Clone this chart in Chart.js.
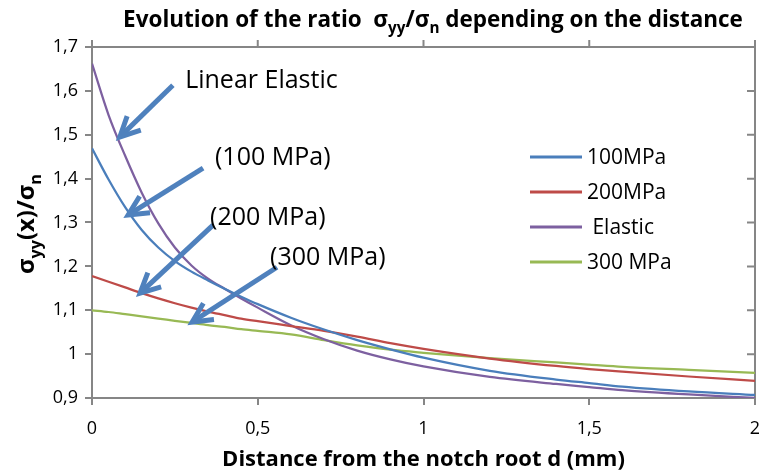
<!DOCTYPE html>
<html>
<head>
<meta charset="utf-8">
<script src="https://cdn.jsdelivr.net/npm/chart.js@4"></script>
<style>
  html, body { margin: 0; padding: 0; background: #fff; }
  #wrap { width: 759px; height: 474px; }
</style>
</head>
<body>
<div id="wrap"><canvas id="ratioChart"></canvas></div>
<script>
// distance from the notch root d (mm)
const distances = [0, 0.05, 0.1, 0.15, 0.2, 0.25, 0.3, 0.35, 0.4, 0.45, 0.5, 0.6, 0.7, 0.8, 0.9, 1.0, 1.2, 1.4, 1.5, 1.6, 1.8, 2.0];
// sigma_yy / sigma_n
const ratio100MPa = [1.469, 1.398, 1.335, 1.283, 1.243, 1.212, 1.188, 1.168, 1.149, 1.131, 1.114, 1.083, 1.056, 1.032, 1.011, 0.992, 0.962, 0.942, 0.934, 0.926, 0.915, 0.907];
const ratio200MPa = [1.178, 1.165, 1.152, 1.139, 1.127, 1.116, 1.106, 1.097, 1.089, 1.081, 1.075, 1.064, 1.053, 1.040, 1.025, 1.012, 0.990, 0.973, 0.966, 0.960, 0.949, 0.939];
const ratioElastic = [1.662, 1.545, 1.452, 1.368, 1.298, 1.243, 1.202, 1.172, 1.149, 1.127, 1.106, 1.066, 1.034, 1.008, 0.988, 0.972, 0.948, 0.932, 0.925, 0.918, 0.908, 0.900];
const ratio300MPa = [1.100, 1.096, 1.091, 1.086, 1.081, 1.076, 1.071, 1.066, 1.062, 1.057, 1.053, 1.045, 1.032, 1.020, 1.010, 1.003, 0.991, 0.981, 0.976, 0.971, 0.964, 0.957];

const seriesLabels = ['100MPa', '200MPa', ' Elastic', '300 MPa'];
const seriesColors = ['#4A7EBB', '#BE4B48', '#7D60A0', '#98B954'];

// callouts: label text and arrow, in data units (d, ratio)
const calloutTexts = ['Linear Elastic', '(100 MPa)', '(200 MPa)', '(300 MPa)'];
const calloutTextAt = [[0.281, 1.606], [0.371, 1.431], [0.356, 1.294], [0.537, 1.203]];
const calloutTail = [[0.244, 1.613], [0.335, 1.424], [0.365, 1.294], [0.558, 1.198]];
const calloutTip = [[0.084, 1.495], [0.109, 1.317], [0.145, 1.139], [0.302, 1.073]];

const axisColor = '#868686';
const fontFamily = '"Open Sans", sans-serif';

function toPoints(values) {
  return values.map((v, i) => ({ x: distances[i], y: v }));
}

function commaNum(v) {
  return (Math.round(v * 10) / 10).toString().replace('.', ',');
}

// MARK: text made of pieces, some as subscripts; size chosen so it fills `width`
function drawRich(ctx, parts, x, y, width, align) {
  const measure = size => parts.reduce((w, p) => {
    ctx.font = 'bold ' + (p.sub ? size * 0.68 : size) + 'px ' + fontFamily;
    return w + ctx.measureText(p.t).width;
  }, 0);
  const size = 20 * width / measure(20);
  const total = measure(size);
  let cx = align === 'center' ? x - total / 2 : x;
  ctx.textAlign = 'left';
  ctx.textBaseline = 'alphabetic';
  parts.forEach(p => {
    ctx.font = 'bold ' + (p.sub ? size * 0.68 : size) + 'px ' + fontFamily;
    ctx.fillText(p.t, cx, p.sub ? y + size * 0.28 : y);
    cx += ctx.measureText(p.t).width;
  });
}

const framePlugin = {
  id: 'frame',
  beforeDatasetsDraw(chart) {
    const { ctx, chartArea: a, scales: { x, y } } = chart;
    ctx.save();
    ctx.strokeStyle = axisColor;
    ctx.lineWidth = 2;
    ctx.beginPath();
    ctx.moveTo(a.left, a.top);
    ctx.lineTo(a.right, a.top);
    ctx.lineTo(a.right, a.bottom);
    x.ticks.forEach(t => {
      const px = x.getPixelForValue(t.value);
      ctx.moveTo(px, a.top);
      ctx.lineTo(px, a.top - 7);
    });
    y.ticks.forEach(t => {
      const py = y.getPixelForValue(t.value);
      ctx.moveTo(a.right, py);
      ctx.lineTo(a.right - 8, py);
    });
    ctx.stroke();
    ctx.restore();
  }
};

const textPlugin = {
  id: 'texts',
  afterDraw(chart) {
    const { ctx, chartArea: a, scales: { x, y } } = chart;
    ctx.save();
    ctx.fillStyle = '#000';

    // title
    drawRich(ctx, [
      { t: 'Evolution of the ratio  σ' }, { t: 'yy', sub: true },
      { t: '/σ' }, { t: 'n', sub: true },
      { t: ' depending on the distance' }
    ], 433, 27, 620, 'center');

    // y axis title (rotated)
    ctx.save();
    ctx.translate(34, 224);
    ctx.rotate(-Math.PI / 2);
    drawRich(ctx, [
      { t: 'σ' }, { t: 'yy', sub: true }, { t: '(x)/σ' }, { t: 'n', sub: true }
    ], 0, 0, 100, 'center');
    ctx.restore();

    // legend inside the plot
    const lx = a.right - 225, ly = a.top + 110;
    chart.data.datasets.forEach((ds, i) => {
      const yy = ly + i * 35;
      ctx.strokeStyle = ds.borderColor;
      ctx.lineWidth = 3;
      ctx.beginPath();
      ctx.moveTo(lx, yy);
      ctx.lineTo(lx + 52, yy);
      ctx.stroke();
      ctx.font = '21px ' + fontFamily;
      ctx.textAlign = 'left';
      ctx.textBaseline = 'middle';
      ctx.fillText(ds.label, lx + 57, yy + 1);
    });

    // callout arrows
    ctx.strokeStyle = '#4F81BD';
    ctx.lineWidth = 5;
    ctx.lineJoin = 'miter';
    calloutTail.forEach((tail, i) => {
      const x0 = x.getPixelForValue(tail[0]), y0 = y.getPixelForValue(tail[1]);
      const x1 = x.getPixelForValue(calloutTip[i][0]), y1 = y.getPixelForValue(calloutTip[i][1]);
      const ang = Math.atan2(y0 - y1, x0 - x1);
      const hl = 22, ha = 0.46;
      ctx.beginPath();
      ctx.moveTo(x0, y0);
      ctx.lineTo(x1 + Math.cos(ang) * 3, y1 + Math.sin(ang) * 3);
      ctx.stroke();
      ctx.beginPath();
      ctx.moveTo(x1 + Math.cos(ang - ha) * hl, y1 + Math.sin(ang - ha) * hl);
      ctx.lineTo(x1, y1);
      ctx.lineTo(x1 + Math.cos(ang + ha) * hl, y1 + Math.sin(ang + ha) * hl);
      ctx.stroke();
    });

    // callout labels
    ctx.font = '25px ' + fontFamily;
    ctx.textAlign = 'left';
    ctx.textBaseline = 'alphabetic';
    calloutTexts.forEach((txt, i) => {
      ctx.fillText(txt, x.getPixelForValue(calloutTextAt[i][0]), y.getPixelForValue(calloutTextAt[i][1]));
    });
    ctx.restore();
  }
};

const datasets = [ratio100MPa, ratio200MPa, ratioElastic, ratio300MPa].map((vals, i) => ({
  label: seriesLabels[i],
  data: toPoints(vals),
  borderColor: seriesColors[i],
  backgroundColor: seriesColors[i],
  borderWidth: 2.25,
  pointRadius: 0,
  cubicInterpolationMode: 'monotone',
  fill: false
}));

new Chart(document.getElementById('ratioChart'), {
  type: 'line',
  data: { datasets },
  options: {
    responsive: true,
    maintainAspectRatio: false,
    animation: false,
    layout: { padding: { top: 47, right: 4, left: 0, bottom: 0 } },
    plugins: {
      legend: { display: false },
      title: { display: false },
      tooltip: { enabled: false }
    },
    scales: {
      x: {
        type: 'linear',
        min: 0, max: 2,
        border: { color: axisColor, width: 2 },
        grid: { drawOnChartArea: false, color: axisColor, lineWidth: 2, tickLength: 7 },
        ticks: { stepSize: 0.5, padding: 13, color: '#000', font: { family: fontFamily, size: 18 }, callback: commaNum },
        title: { display: true, text: 'Distance from the notch root d (mm)', color: '#000',
                 font: { family: fontFamily, size: 22, weight: 'bold' }, padding: { top: 0, bottom: 1 } },
        afterFit: s => { s.height = 76; s.paddingLeft = 0; s.paddingRight = 0; }
      },
      y: {
        min: 0.9, max: 1.7,
        border: { color: axisColor, width: 2 },
        grid: { drawOnChartArea: false, color: axisColor, lineWidth: 2, tickLength: 7 },
        ticks: { stepSize: 0.1, padding: 7, color: '#000', font: { family: fontFamily, size: 18 }, callback: commaNum },
        afterFit: s => { s.width = 92; s.paddingTop = 0; s.paddingBottom = 0; }
      }
    }
  },
  plugins: [framePlugin, textPlugin]
});
</script>
</body>
</html>
